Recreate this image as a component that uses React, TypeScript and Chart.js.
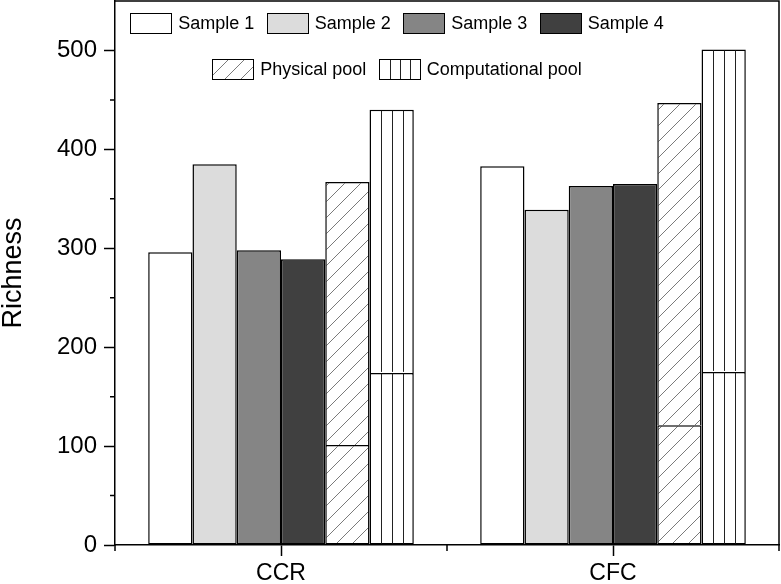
import React, { useEffect, useRef } from 'react';
import { Chart, registerables } from 'chart.js';

Chart.register(...registerables);

const categories = ['CCR', 'CFC'];
const sample1 = [296, 383];
const sample2 = [385, 339];
const sample3 = [298, 363];
const sample4 = [289, 365];
const physicalLower = [101, 121];
const physicalTotal = [367, 447];
const computationalLower = [174, 175];
const computationalTotal = [440, 501];
const yTicks = [0, 100, 200, 300, 400, 500];
const yMinor = [50, 150, 250, 350, 450];

const FONT = "'Liberation Sans', Arial, sans-serif";

function makeHatch(): CanvasPattern | string {
  const c = document.createElement('canvas');
  c.width = 16;
  c.height = 16;
  const g = c.getContext('2d');
  if (!g) return '#fff';
  g.fillStyle = '#fff';
  g.fillRect(0, 0, 16, 16);
  g.strokeStyle = '#7a7a7a';
  g.lineWidth = 1;
  g.beginPath();
  g.moveTo(-2, 18);
  g.lineTo(18, -2);
  g.stroke();
  const p = g.createPattern(c, 'repeat');
  return p || '#fff';
}

export default function App() {
  const ref = useRef<HTMLCanvasElement | null>(null);

  useEffect(() => {
    const canvas = ref.current;
    if (!canvas) return;
    const hatch = makeHatch();
    const physicalUpper = physicalTotal.map((v, i) => v - physicalLower[i]);
    const computationalUpper = computationalTotal.map((v, i) => v - computationalLower[i]);

    const base = { borderColor: '#000', borderWidth: 1.5, borderSkipped: false as const };
    const upper = { borderColor: '#000', borderWidth: 1.5, borderSkipped: 'start' as const };
    const datasets: any[] = [
      { ...base, label: 'Sample 1', data: sample1, backgroundColor: '#ffffff', stack: 's1' },
      { ...base, label: 'Sample 2', data: sample2, backgroundColor: '#dcdcdc', stack: 's2' },
      { ...base, label: 'Sample 3', data: sample3, backgroundColor: '#858585', stack: 's3' },
      { ...base, label: 'Sample 4', data: sample4, backgroundColor: '#404040', stack: 's4' },
      { ...base, label: 'Physical pool', data: physicalLower, backgroundColor: hatch, stack: 'phys', kind: 'hatch' },
      { ...upper, label: 'Physical pool (upper)', data: physicalUpper, backgroundColor: hatch, stack: 'phys', noLegend: true },
      { ...base, label: 'Computational pool', data: computationalLower, backgroundColor: '#ffffff', stack: 'comp', kind: 'vlines' },
      { ...upper, label: 'Computational pool (upper)', data: computationalUpper, backgroundColor: '#ffffff', stack: 'comp', noLegend: true, kind: 'vlines' },
    ];

    const decor = {
      id: 'decor',
      afterDatasetsDraw(chart: any) {
        const ctx = chart.ctx;
        chart.data.datasets.forEach((ds: any, di: number) => {
          if (ds.kind !== 'vlines') return;
          const meta = chart.getDatasetMeta(di);
          meta.data.forEach((el: any) => {
            const { x, y, base: b, width } = el.getProps(['x', 'y', 'base', 'width'], true);
            const left = x - width / 2;
            ctx.save();
            ctx.strokeStyle = '#222';
            ctx.lineWidth = 1;
            for (let k = 1; k <= 3; k++) {
              const lx = Math.round(left + (width * k) / 4) + 0.5;
              ctx.beginPath();
              ctx.moveTo(lx, Math.min(y, b) + 1);
              ctx.lineTo(lx, Math.max(y, b) - 1);
              ctx.stroke();
            }
            ctx.restore();
          });
        });
      },
      afterDraw(chart: any) {
        const ctx = chart.ctx;
        const a = chart.chartArea;
        ctx.save();
        ctx.strokeStyle = '#000';
        ctx.lineWidth = 1.5;
        ctx.beginPath();
        ctx.moveTo(a.left, a.top);
        ctx.lineTo(a.right, a.top);
        ctx.lineTo(a.right, a.bottom);
        ctx.stroke();
        const ys = chart.scales.y;
        ctx.beginPath();
        yMinor.forEach((v) => {
          const py = ys.getPixelForValue(v);
          ctx.moveTo(a.left - 5, py);
          ctx.lineTo(a.left, py);
        });
        const n = categories.length;
        for (let i = 0; i <= n; i++) {
          const px = a.left + ((a.right - a.left) * i) / n;
          ctx.moveTo(px, a.bottom);
          ctx.lineTo(px, a.bottom + 6);
        }
        ctx.stroke();

        // legend inside plot area
        const items = chart.data.datasets.filter((d: any) => !d.noLegend);
        const rows = [items.slice(0, 4), items.slice(4)];
        const rowY = [22.7, 68.7];
        const boxW = 41;
        const boxH = 20;
        const gap = 7;
        const itemGap = 12.5;
        const cx = 397;
        ctx.font = `18px ${FONT}`;
        ctx.textBaseline = 'middle';
        ctx.textAlign = 'left';
        rows.forEach((row: any[], ri: number) => {
          const widths = row.map((d) => boxW + gap + ctx.measureText(d.label).width);
          const total = widths.reduce((s, w) => s + w, 0) + itemGap * (row.length - 1);
          let x = cx - total / 2;
          const cy = rowY[ri];
          row.forEach((d, i) => {
            const bx = Math.round(x) + 0.5;
            const by = Math.round(cy - boxH / 2) + 0.5;
            ctx.fillStyle = d.backgroundColor;
            ctx.fillRect(bx, by, boxW, boxH);
            if (d.kind === 'vlines') {
              ctx.strokeStyle = '#222';
              ctx.lineWidth = 1;
              ctx.beginPath();
              for (let k = 1; k <= 3; k++) {
                const lx = Math.round(bx + (boxW * k) / 4) + 0.5;
                ctx.moveTo(lx, by);
                ctx.lineTo(lx, by + boxH);
              }
              ctx.stroke();
            }
            ctx.strokeStyle = '#000';
            ctx.lineWidth = 1;
            ctx.strokeRect(bx, by, boxW, boxH);
            ctx.fillStyle = '#000';
            ctx.fillText(d.label, x + boxW + gap, cy + 1);
            x += widths[i] + itemGap;
          });
        });
        ctx.restore();
      },
    };

    const chart = new Chart(canvas, {
      type: 'bar',
      data: { labels: categories, datasets },
      options: {
        responsive: false,
        animation: false,
        layout: { padding: { left: 0, right: 2, top: 1, bottom: 0 } },
        datasets: { bar: { categoryPercentage: 0.8, barPercentage: 1 } },
        plugins: { legend: { display: false }, tooltip: { enabled: false } },
        scales: {
          x: {
            stacked: true,
            grid: { display: true, drawOnChartArea: false, offset: false, tickLength: 11, tickWidth: 1.5, tickColor: '#000' },
            border: { display: true, color: '#000', width: 1.5 },
            ticks: { color: '#000', font: { family: FONT, size: 23 }, padding: 4, maxRotation: 0 },
            afterFit: (s: any) => { s.height = 39; s.paddingLeft = 0; s.paddingRight = 0; },
          },
          y: {
            stacked: true,
            min: 0,
            max: 550,
            afterBuildTicks: (s: any) => { s.ticks = yTicks.map((v) => ({ value: v })); },
            grid: { display: true, drawOnChartArea: false, tickLength: 11, tickWidth: 1.5, tickColor: '#000' },
            border: { display: true, color: '#000', width: 1.5 },
            ticks: { color: '#000', font: { family: FONT, size: 24 }, padding: 7 },
            title: { display: true, text: 'Richness', color: '#000', font: { family: FONT, size: 27, lineHeight: 1 }, padding: 0 },
            afterFit: (s: any) => { s.width = 115; s.paddingTop = 0; s.paddingBottom = 0; },
          },
        },
      },
      plugins: [decor],
    });
    return () => chart.destroy();
  }, []);

  return (
    <div style={{ position: 'absolute', left: 0, top: 0, width: 781, height: 584, background: '#fff' }}>
      <canvas ref={ref} width={781} height={584} style={{ display: 'block' }} />
    </div>
  );
}
